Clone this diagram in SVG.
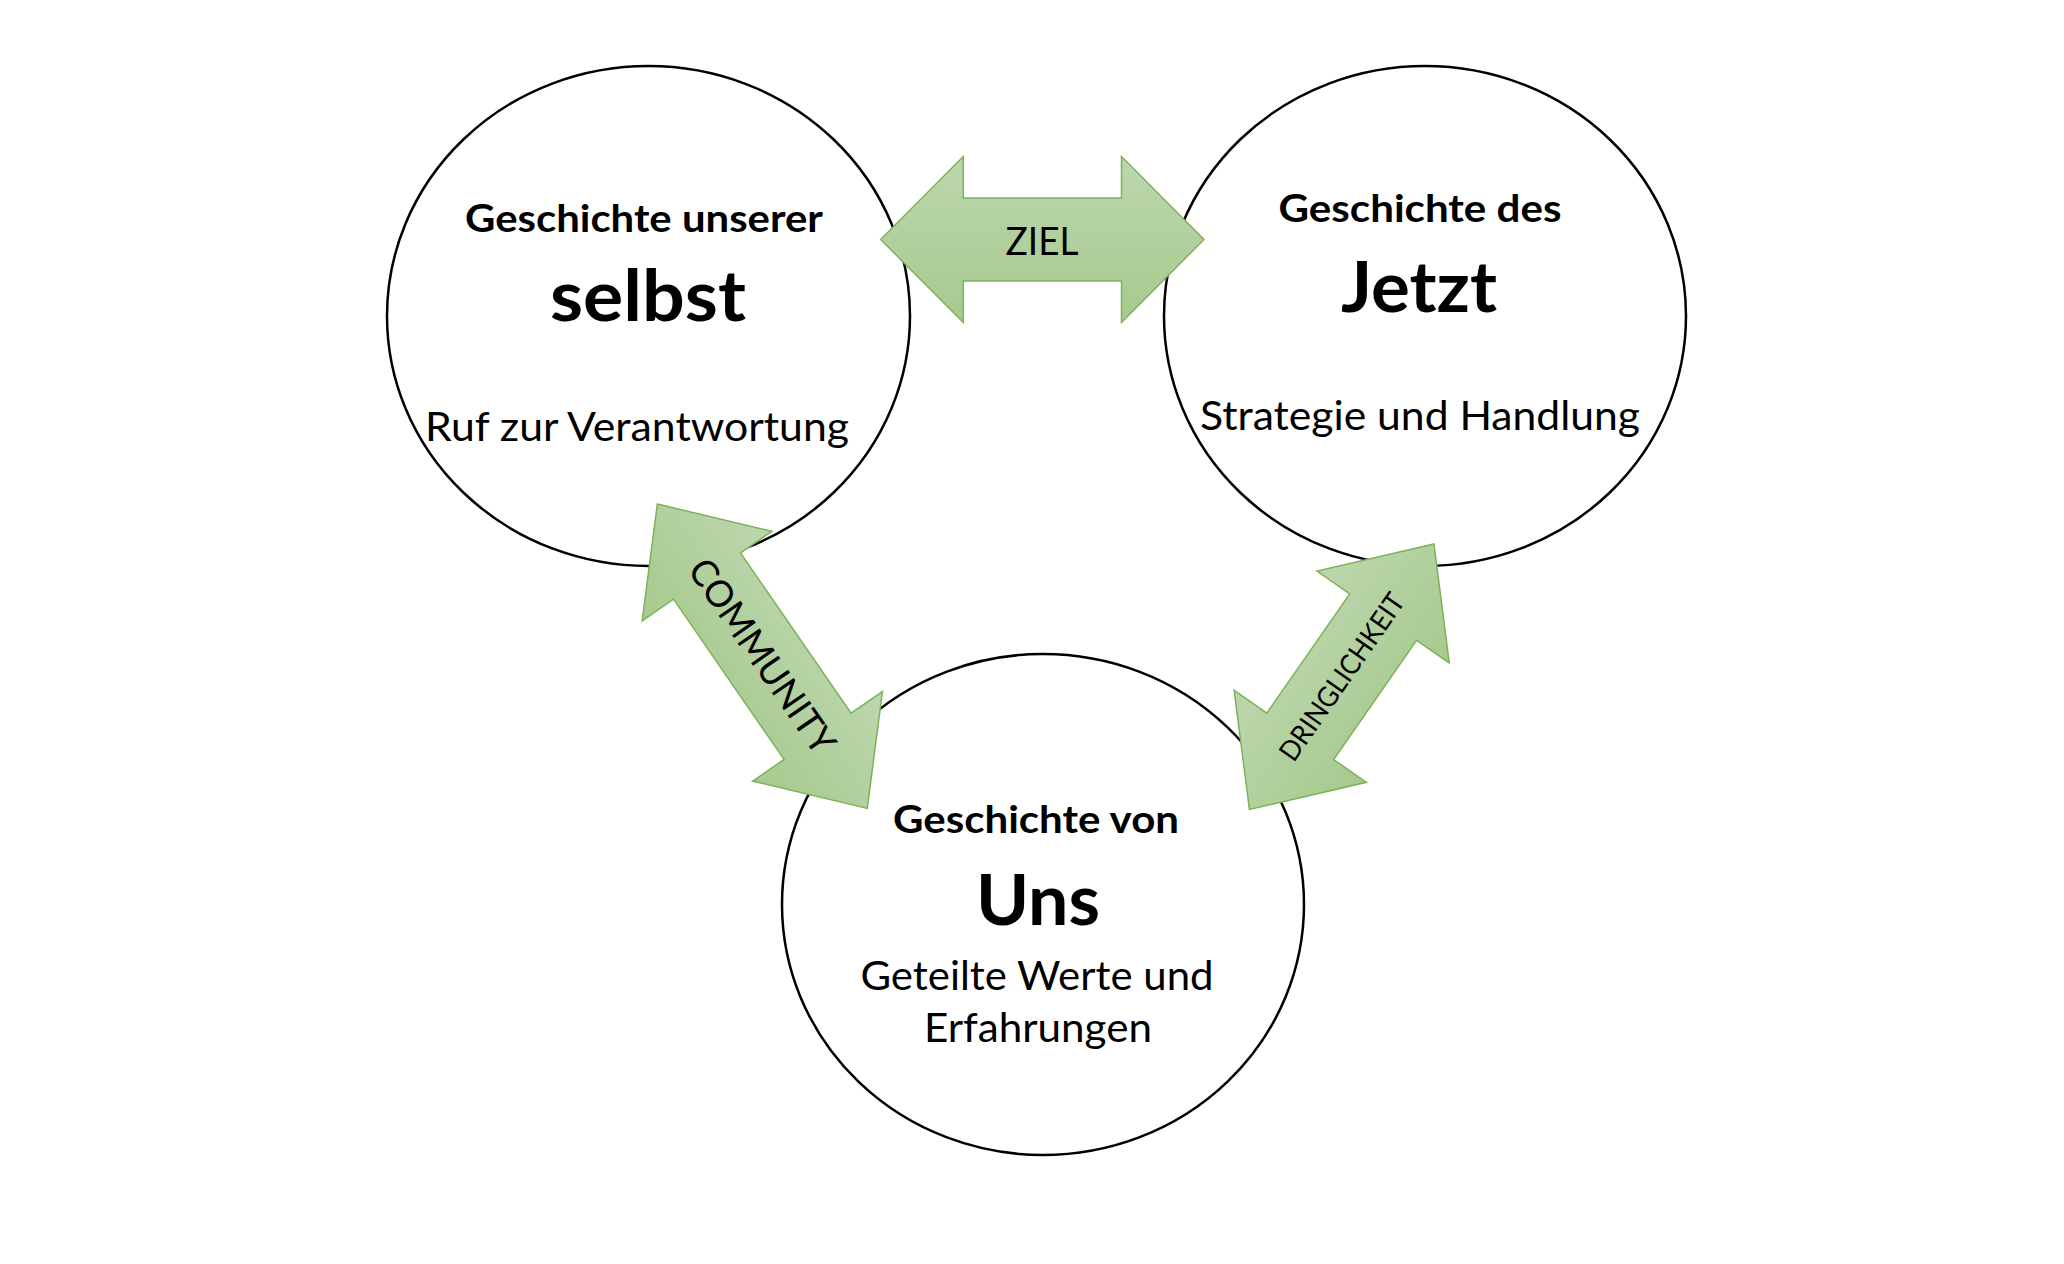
<svg xmlns="http://www.w3.org/2000/svg" width="2064" height="1264" viewBox="0 0 2064 1264">
<defs>
<linearGradient id="g" x1="0" y1="0" x2="0" y2="1">
<stop offset="0" stop-color="#bdd7ae"/>
<stop offset="1" stop-color="#a7c98e"/>
</linearGradient>
<style>
.c{fill:#fff;stroke:#000;stroke-width:2.5}
.a{fill:url(#g);stroke:#7cb25a;stroke-width:1.5;stroke-linejoin:miter}
text{font-family:Lato,"Open Sans","Liberation Sans",sans-serif;fill:#000;text-anchor:middle}
.h{font-weight:bold;font-size:38.5px}
.big{font-weight:bold;font-size:70px}
.b{font-size:40.5px}
.l{font-size:39px}
.l2{font-size:37px}
.l3{font-size:28px}
</style>
</defs>
<rect width="2064" height="1264" fill="#fff"/>
<g id="node-selbst">
<ellipse class="c" cx="648.5" cy="316" rx="261.5" ry="250"/>
<text class="h" x="644" y="232" textLength="358" lengthAdjust="spacingAndGlyphs">Geschichte unserer</text>
<text class="big" x="648" y="321" textLength="196" lengthAdjust="spacingAndGlyphs">selbst</text>
<text class="b" x="637" y="441" textLength="424" lengthAdjust="spacingAndGlyphs">Ruf zur Verantwortung</text>
</g>
<g id="node-jetzt">
<ellipse class="c" cx="1425" cy="316" rx="261" ry="250"/>
<text class="h" x="1420" y="222" textLength="283" lengthAdjust="spacingAndGlyphs">Geschichte des</text>
<text class="big" x="1419" y="312" textLength="156" lengthAdjust="spacingAndGlyphs">Jetzt</text>
<text class="b" x="1420" y="430" textLength="440" lengthAdjust="spacingAndGlyphs">Strategie und Handlung</text>
</g>
<g id="node-uns">
<ellipse class="c" cx="1043" cy="904.5" rx="261" ry="250.5"/>
<text class="h" x="1036" y="833" textLength="286" lengthAdjust="spacingAndGlyphs">Geschichte von</text>
<text class="big" x="1038" y="925" textLength="124" lengthAdjust="spacingAndGlyphs">Uns</text>
<text class="b" x="1037" y="990" textLength="353" lengthAdjust="spacingAndGlyphs">Geteilte Werte und</text>
<text class="b" x="1038" y="1042" textLength="228" lengthAdjust="spacingAndGlyphs">Erfahrungen</text>
</g>
<g id="connectors">
<g id="arrow-ziel">
<polygon class="a" points="880.7,239.5 963.3,156.5 963.3,198 1121.5,198 1121.5,156.5 1204,239.5 1121.5,322.5 1121.5,281 963.3,281 963.3,322.5"/>
<text class="l" x="1042" y="254.5" textLength="73" lengthAdjust="spacingAndGlyphs">ZIEL</text>
</g>
<g id="arrow-community" transform="translate(762.3,656.2) rotate(55.4)">
<polygon class="a" points="-184.85,0 -97.35,-78.8 -97.35,-40.7 97.35,-40.7 97.35,-78.8 184.85,0 97.35,78.8 97.35,40.7 -97.35,40.7 -97.35,78.8"/>
<text class="l2" x="0" y="13" textLength="228" lengthAdjust="spacingAndGlyphs">COMMUNITY</text>
</g>
<g id="arrow-dringlichkeit" transform="translate(1341.7,676.7) rotate(-55.2)">
<polygon class="a" points="-161.65,0 -72.65,-80.5 -72.65,-40.7 72.65,-40.7 72.65,-80.5 161.65,0 72.65,80.5 72.65,40.7 -72.65,40.7 -72.65,80.5"/>
<text class="l3" x="0" y="10" textLength="197" lengthAdjust="spacingAndGlyphs">DRINGLICHKEIT</text>
</g>
</g>
</svg>
